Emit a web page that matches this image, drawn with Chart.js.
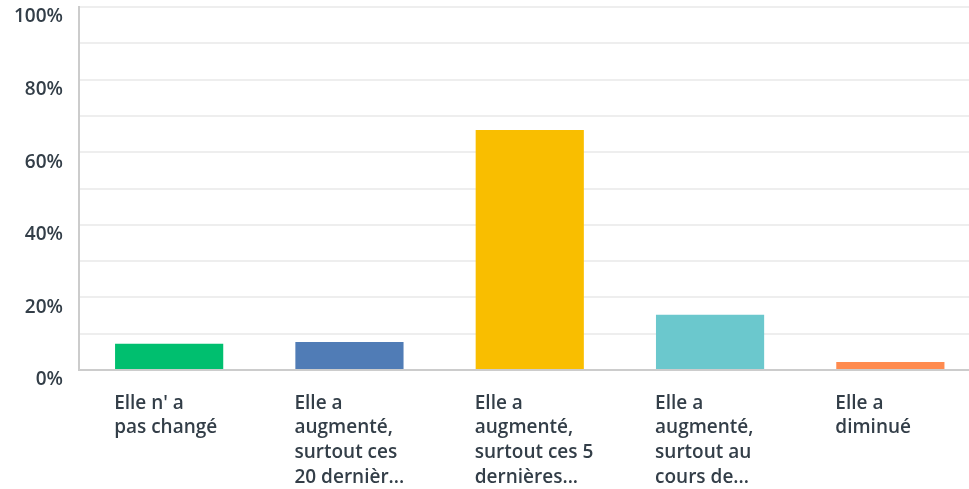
<!DOCTYPE html>
<html>
<head>
<meta charset="utf-8">
<script src="https://cdn.jsdelivr.net/npm/chart.js@4.4.0/dist/chart.umd.min.js"></script>
<style>
  html, body { margin: 0; padding: 0; background: #fff; overflow: hidden; }
  #wrap { width: 987px; height: 489px; }
</style>
</head>
<body>
<div id="wrap"><canvas id="myChart"></canvas></div>
<script>
// données
const categories = [
  ["Elle n' a", "pas changé"],
  ["Elle a", "augmenté,", "surtout ces", "20 dernièr..."],
  ["Elle a", "augmenté,", "surtout ces 5", "dernières..."],
  ["Elle a", "augmenté,", "surtout au", "cours de..."],
  ["Elle a", "diminué"]
];
const values = [7.2, 7.7, 66.1, 15.2, 2.2];
const barColors = ['#00bf6f', '#507cb6', '#f9be00', '#6bc8cd', '#ff8b4f'];
const yTicks = [0, 20, 40, 60, 80, 100];

const textColor = '#333e48';
const fontFamily = '"Open Sans", sans-serif';

const ctx = document.getElementById('myChart').getContext('2d');

new Chart(ctx, {
  type: 'bar',
  data: {
    labels: categories,
    datasets: [{
      data: values,
      backgroundColor: barColors,
      barPercentage: 0.6,
      categoryPercentage: 1
    }]
  },
  options: {
    responsive: true,
    maintainAspectRatio: false,
    animation: false,
    layout: { padding: { top: 7, right: 0, bottom: 0, left: 0 } },
    plugins: {
      legend: { display: false },
      tooltip: { enabled: false }
    },
    scales: {
      x: {
        afterFit: scale => {
          scale.height = 119;
          scale.paddingBottom = 0;
        },
        grid: { display: false, drawTicks: false },
        border: { display: true, color: '#cccccc', width: 2 },
        ticks: {
          color: textColor,
          font: { family: fontFamily, size: 19, weight: '600', lineHeight: 1.3 },
          align: 'start',
          labelOffset: -55,
          padding: 21,
          maxRotation: 0,
          minRotation: 0,
          autoSkip: false
        }
      },
      y: {
        min: 0,
        max: 100,
        afterFit: scale => {
          scale.width = 79;
          scale.paddingTop = 0;
          scale.paddingBottom = 0;
        },
        grid: {
          color: c => (c.tick && c.tick.value === 0) ? '#cccccc' : '#eeeeee',
          lineWidth: 2,
          drawTicks: false
        },
        border: { display: true, color: '#cccccc', width: 2 },
        ticks: {
          stepSize: 10,
          color: textColor,
          font: { family: fontFamily, size: 19, weight: '600' },
          padding: 16,
          labelOffset: 10,
          callback: v => yTicks.includes(v) ? v + '%' : ''
        }
      }
    }
  }
});
</script>
</body>
</html>
